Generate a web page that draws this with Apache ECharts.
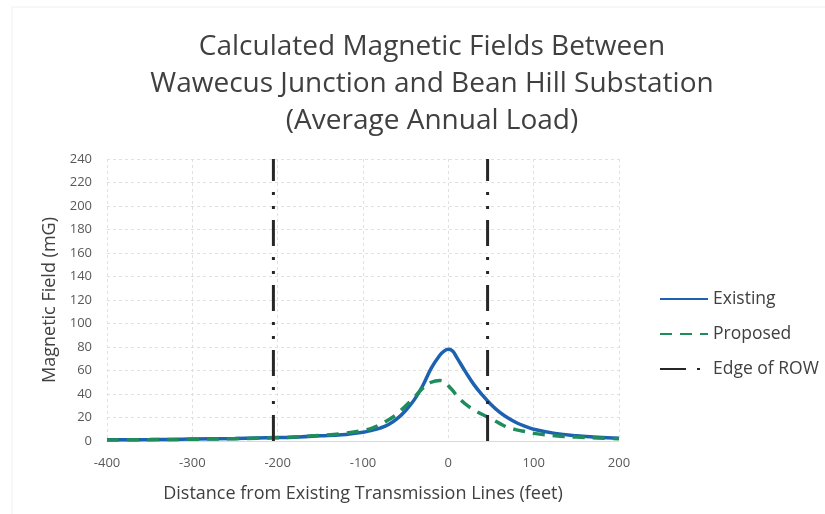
<!DOCTYPE html>
<html>
<head>
<meta charset="utf-8">
<script src="https://cdn.jsdelivr.net/npm/echarts@6/dist/echarts.min.js"></script>
<style>html,body{margin:0;padding:0;background:#fff}#c{width:825px;height:514px}</style>
</head>
<body>
<div id="c"></div>
<script>
const distances = [-400,-350,-300,-250,-200,-175,-150,-125,-100,-90,-80,-70,-60,-50,-40,-30,-20,-10,-5,0,5,10,20,30,40,50,60,70,80,90,100,125,150,175,200];
const existing  = [1.0,1.2,1.6,2.1,2.9,3.5,4.4,5.3,7.5,9,11,14,19,26,35,47,62,73,76.5,78,76.5,71,59,48,39,31,24.5,19.5,15.5,12.5,10,6.5,4.5,3.2,2.4];
const proposed  = [0.9,1.1,1.5,2.0,2.8,3.6,4.8,6.2,9,10.8,14,18,23,30,37,45,50,51.5,50.5,47,43,38.5,31.5,26.5,22.5,19,15,11.5,9.5,8,6.5,4.5,3.3,2.6,2.0];
const rowEdges  = [-205, 46];
const yTop = 240;
const xTicks = {min:-400, max:200, interval:100};
const yTicks = {min:0, max:240, interval:20};

const rowData = [];
rowEdges.forEach((x,i)=>{ if(i>0) rowData.push(['-','-']); rowData.push([x,0]); rowData.push([x,yTop]); });

const font = 'Open Sans';
const chart = echarts.init(document.getElementById('c'));
chart.setOption({
  animation:false,
  textStyle:{fontFamily:font},
  graphic:[{type:'rect',shape:{x:12,y:7,width:830,height:530},style:{fill:'none',stroke:'#efefef',lineWidth:1},silent:true}],
  title:{
    text:'Calculated Magnetic Fields Between\nWawecus Junction and Bean Hill Substation\n(Average Annual Load)',
    left:427, top:24, textAlign:'center',
    textStyle:{fontFamily:font,fontSize:28,fontWeight:'normal',color:'#404040',lineHeight:37}
  },
  legend:{
    orient:'vertical', left:654, top:285, itemWidth:48, itemHeight:14, itemGap:17,
    itemStyle:{opacity:0},
    textStyle:{fontFamily:font,fontSize:17.5,color:'#404040'},
    data:['Existing','Proposed','Edge of ROW']
  },
  grid:{left:107, right:206, top:159, bottom:73},
  xAxis:{
    type:'value', min:xTicks.min, max:xTicks.max, interval:xTicks.interval,
    name:'Distance from Existing Transmission Lines (feet)', nameLocation:'middle', nameGap:44,
    nameTextStyle:{fontFamily:font,fontSize:18,color:'#404040'},
    axisLine:{show:true,lineStyle:{color:'#d9d9d9'}}, axisTick:{show:false},
    axisLabel:{fontFamily:font,fontSize:13,color:'#595959',margin:16},
    splitLine:{show:true,lineStyle:{color:'#e0e0e0',type:[3,3]}}
  },
  yAxis:{
    type:'value', min:yTicks.min, max:yTicks.max, interval:yTicks.interval,
    name:'Magnetic Field (mG)', nameLocation:'middle', nameGap:48, nameRotate:90,
    nameTextStyle:{fontFamily:font,fontSize:18,color:'#404040'},
    axisLine:{show:false}, axisTick:{show:false},
    axisLabel:{fontFamily:font,fontSize:13,color:'#595959',margin:15},
    splitLine:{show:true,lineStyle:{color:'#e0e0e0',type:[3,3]}}
  },
  series:[
    {name:'Existing', type:'line', data:distances.map((d,i)=>[d,existing[i]]), smooth:0.4, showSymbol:false, symbol:'none',
     lineStyle:{color:'#1c62b0',width:3.5}, itemStyle:{color:'#1c62b0'}, z:3},
    {name:'Proposed', type:'line', data:distances.map((d,i)=>[d,proposed[i]]), smooth:0.4, showSymbol:false, symbol:'none',
     lineStyle:{color:'#1f8c5c',width:3.5,type:[12,8]}, itemStyle:{color:'#1f8c5c'}, z:4},
    {name:'Edge of ROW', type:'line', data:rowData, showSymbol:false, symbol:'none', connectNulls:false,
     lineStyle:{color:'#262626',width:3,type:[26,11,3,11,3,11]}, itemStyle:{color:'#262626'}, z:5}
  ]
});
</script>
</body>
</html>
